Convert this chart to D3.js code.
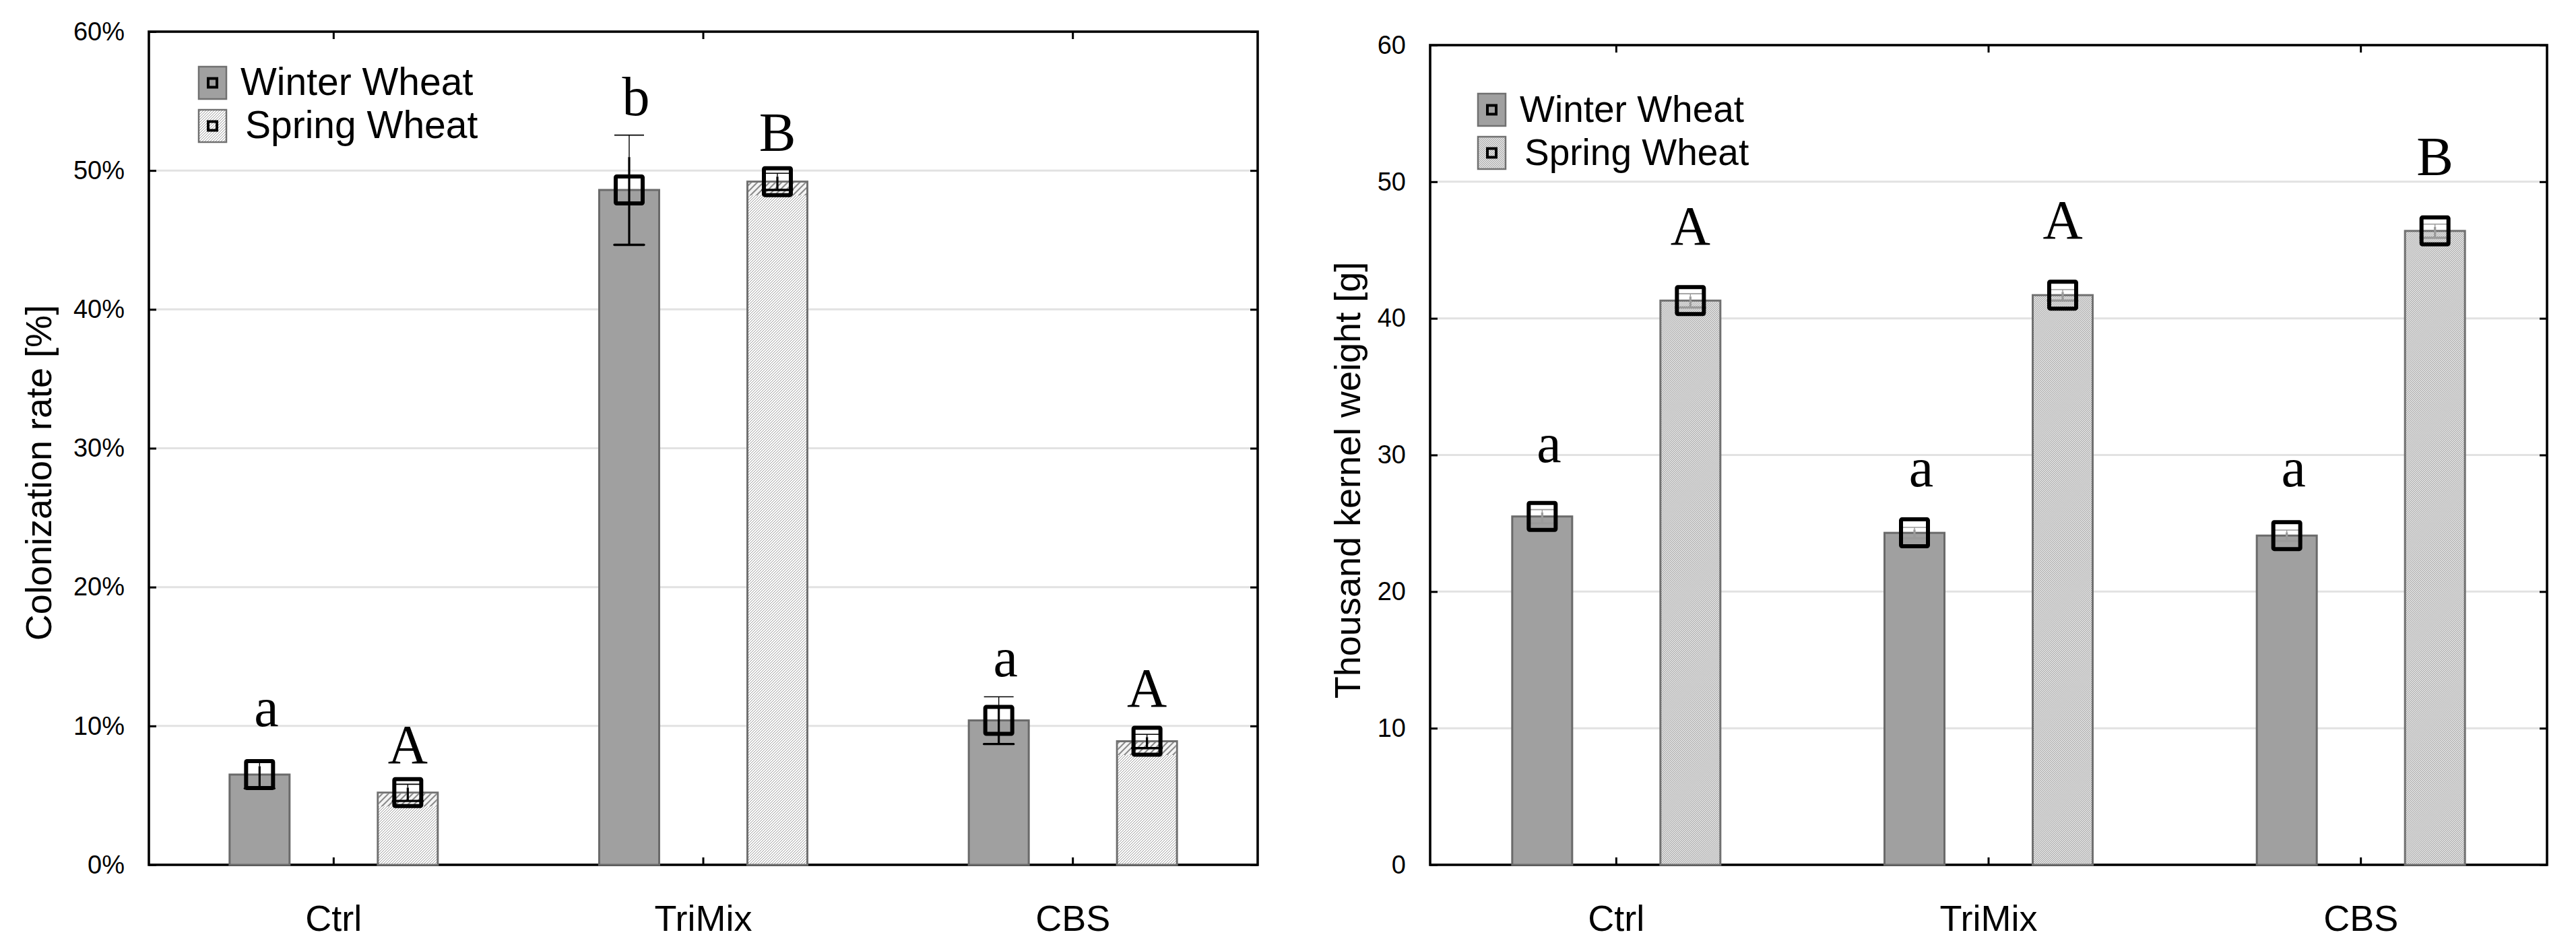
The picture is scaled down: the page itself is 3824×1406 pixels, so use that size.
<!DOCTYPE html>
<html>
<head>
<meta charset="utf-8">
<script src="https://cdnjs.cloudflare.com/ajax/libs/d3/7.8.5/d3.min.js"></script>
<style>
  body { margin: 0; background: #fff; }
  svg { display: block; }
</style>
</head>
<body>
<script>
// categories and series
var categories = ["Ctrl", "TriMix", "CBS"];
var seriesNames = ["Winter Wheat", "Spring Wheat"];

// colonization rate [%]
var colonWinter = [6.5, 48.6, 10.4];
var colonSpring = [5.2, 49.2, 8.9];
var colonWinterErr = [1.0, 3.95, 1.7];
var colonSpringErr = [0.6, 0.6, 0.5];
var colonWinterLetters = ["a", "b", "a"];
var colonSpringLetters = ["A", "B", "A"];
var colonWinterLetterAt = [10.0, 54.0, 13.6];
var colonSpringLetterAt = [7.3, 51.4, 11.4];
var colonTicks = [0, 10, 20, 30, 40, 50, 60];

// thousand kernel weight [g]
var tkwWinter = [25.5, 24.3, 24.1];
var tkwSpring = [41.3, 41.7, 46.4];
var tkwWinterErr = [0.5, 0.4, 0.4];
var tkwSpringErr = [0.5, 0.4, 0.5];
var tkwWinterLetters = ["a", "a", "a"];
var tkwSpringLetters = ["A", "A", "B"];
var tkwWinterLetterAt = [29.5, 27.7, 27.7];
var tkwSpringLetterAt = [45.4, 45.85, 50.5];
var tkwTicks = [0, 10, 20, 30, 40, 50, 60];

var W = 3824, H = 1406;
var svg = d3.select("body").append("svg").attr("width", W).attr("height", H);

// fill patterns
var defs = svg.append("defs");
function hatch(id, size, color, width, bg){
  var p = defs.append("pattern").attr("id", id)
    .attr("patternUnits", "userSpaceOnUse")
    .attr("width", size).attr("height", size);
  p.append("rect").attr("width", size).attr("height", size).attr("fill", bg);
  p.append("path")
    .attr("d", "M0," + size + " L" + size + ",0 M-1,1 L1,-1 M" + (size-1) + "," + (size+1) + " L" + (size+1) + "," + (size-1))
    .attr("stroke", color).attr("stroke-width", width);
}
hatch("lightHatch", 4, "#9a9a9a", 1, "#ffffff");
hatch("coarseHatch", 9, "#8a8a8a", 2, "#f4f4f4");
hatch("darkHatch", 3, "#9c9c9c", 1, "#e4e4e4");

function drawChart(cfg){
  var g = svg.append("g");
  var x = d3.scaleBand().domain(categories).range([cfg.x0, cfg.x1]);
  var sub = d3.scalePoint().domain(seriesNames).range([-110, 110]);
  var y = d3.scaleLinear().domain([0, 60]).range([cfg.y1, cfg.y0]);
  var barW = 89;

  // gridlines
  g.selectAll(".grid").data(cfg.ticks.filter(function(t){ return t > 0 && t < 60; }))
    .enter().append("line")
    .attr("x1", cfg.x0).attr("x2", cfg.x1)
    .attr("y1", function(d){ return y(d); }).attr("y2", function(d){ return y(d); })
    .attr("stroke", "#e2e2e2").attr("stroke-width", 3);

  // left axis with labels
  var yAxis = d3.axisLeft(y).tickValues(cfg.ticks).tickSize(-11).tickPadding(36)
    .tickFormat(cfg.fmt);
  var ya = g.append("g").attr("transform", "translate(" + cfg.x0 + ",0)").call(yAxis);
  ya.select(".domain").remove();
  ya.selectAll("line").attr("stroke", "#000").attr("stroke-width", 3);
  ya.selectAll("text").attr("font-family", "Liberation Sans, Arial, sans-serif")
    .attr("font-size", 38).attr("fill", "#000");

  // right axis ticks
  var ra = g.append("g").attr("transform", "translate(" + cfg.x1 + ",0)")
    .call(d3.axisRight(y).tickValues(cfg.ticks).tickSize(-11).tickFormat(""));
  ra.select(".domain").remove();
  ra.selectAll("line").attr("stroke", "#000").attr("stroke-width", 3);

  // bottom axis
  var xa = g.append("g").attr("transform", "translate(0," + cfg.y1 + ")")
    .call(d3.axisBottom(x).tickSize(-11).tickPadding(60));
  xa.select(".domain").remove();
  xa.selectAll("line").attr("stroke", "#000").attr("stroke-width", 3);
  xa.selectAll("text").attr("font-family", "Liberation Sans, Arial, sans-serif")
    .attr("font-size", 54).attr("fill", "#000");

  // top axis ticks
  var ta = g.append("g").attr("transform", "translate(0," + cfg.y0 + ")")
    .call(d3.axisTop(x).tickSize(-11).tickFormat(""));
  ta.select(".domain").remove();
  ta.selectAll("line").attr("stroke", "#000").attr("stroke-width", 3);

  // frame
  g.append("rect").attr("x", cfg.x0).attr("y", cfg.y0)
    .attr("width", cfg.x1 - cfg.x0).attr("height", cfg.y1 - cfg.y0)
    .attr("fill", "none").attr("stroke", "#000").attr("stroke-width", 3.6);

  // y title
  g.append("text")
    .attr("transform", "translate(" + cfg.titleX + "," + cfg.titleY + ") rotate(-90)")
    .attr("text-anchor", "middle").attr("dominant-baseline", "central")
    .attr("font-family", "Liberation Sans, Arial, sans-serif").attr("font-size", 54)
    .text(cfg.title);

  var series = [
    { name: seriesNames[0], vals: cfg.winter, err: cfg.winterErr, letters: cfg.winterLetters, at: cfg.winterLetterAt, fill: "#a0a0a0", stroke: "#6a6a6a", dx: 10 },
    { name: seriesNames[1], vals: cfg.spring, err: cfg.springErr, letters: cfg.springLetters, at: cfg.springLetterAt, fill: cfg.springFill, stroke: "#707070", dx: 0 }
  ];

  series.forEach(function(s, si){
    var rows = categories.map(function(c, i){
      return { cat: c, v: s.vals[i], e: s.err[i], l: s.letters[i], at: s.at[i] };
    });
    var cx = function(d){ return x(d.cat) + x.bandwidth() / 2 + sub(s.name); };

    g.selectAll(".bar" + si).data(rows).enter().append("rect")
      .attr("x", function(d){ return cx(d) - barW / 2; })
      .attr("y", function(d){ return y(d.v); })
      .attr("width", barW)
      .attr("height", function(d){ return y(0) - y(d.v); })
      .attr("fill", s.fill).attr("stroke", s.stroke).attr("stroke-width", 3);

    if (si === 1 && cfg.topStrip) {
      g.selectAll(".strip" + si).data(rows).enter().append("rect")
        .attr("x", function(d){ return cx(d) - barW / 2 + 1.5; })
        .attr("y", function(d){ return y(d.v) + 1.5; })
        .attr("width", barW - 3).attr("height", 19)
        .attr("fill", "url(#coarseHatch)");
    }

    // error bars
    var errColor = cfg.errColor;
    g.selectAll(".elo" + si).data(rows).enter().append("line")
      .attr("x1", cx).attr("x2", cx)
      .attr("y1", function(d){ return y(d.v - d.e); })
      .attr("y2", function(d){ return y(d.v + d.e * 0.6); })
      .attr("stroke", errColor).attr("stroke-width", 3.2);
    g.selectAll(".ehi" + si).data(rows).enter().append("line")
      .attr("x1", cx).attr("x2", cx)
      .attr("y1", function(d){ return y(d.v + d.e * 0.6); })
      .attr("y2", function(d){ return y(d.v + d.e); })
      .attr("stroke", errColor).attr("stroke-width", 1.4);
    g.selectAll(".ecapLo" + si).data(rows).enter().append("line")
      .attr("x1", function(d){ return cx(d) - 22; }).attr("x2", function(d){ return cx(d) + 22; })
      .attr("y1", function(d){ return y(d.v - d.e); }).attr("y2", function(d){ return y(d.v - d.e); })
      .attr("stroke", errColor).attr("stroke-width", 3.4).attr("stroke-linecap", "round");
    g.selectAll(".ecapHi" + si).data(rows).enter().append("line")
      .attr("x1", function(d){ return cx(d) - 22; }).attr("x2", function(d){ return cx(d) + 22; })
      .attr("y1", function(d){ return y(d.v + d.e); }).attr("y2", function(d){ return y(d.v + d.e); })
      .attr("stroke", errColor).attr("stroke-width", 1.6);

    // mean markers
    g.selectAll(".mk" + si).data(rows).enter().append("rect")
      .attr("x", function(d){ return cx(d) - 20; })
      .attr("y", function(d){ return y(d.v) - 20; })
      .attr("width", 40).attr("height", 40)
      .attr("fill", "none").attr("stroke", "#000").attr("stroke-width", 6)
      .attr("rx", 1.5);

    // significance letters
    g.selectAll(".lt" + si).data(rows).enter().append("text")
      .attr("x", function(d){ return cx(d) + s.dx; })
      .attr("y", function(d){ return y(d.at); })
      .attr("text-anchor", "middle")
      .attr("font-family", "Liberation Serif, Times New Roman, serif")
      .attr("font-size", 82).attr("fill", "#000")
      .text(function(d){ return d.l; });
  });

  // legend
  var lg = g.append("g").attr("transform", "translate(" + cfg.legX + "," + cfg.legY + ")");
  var legFills = ["#a0a0a0", cfg.springFill];
  seriesNames.forEach(function(n, i){
    var row = lg.append("g").attr("transform", "translate(0," + (i * 64) + ")");
    row.append("rect").attr("x", 0).attr("y", 0).attr("width", 41).attr("height", 48)
      .attr("fill", legFills[i]).attr("stroke", "#707070").attr("stroke-width", 2.5);
    row.append("rect").attr("x", 14).attr("y", 17.5).attr("width", 13).attr("height", 13)
      .attr("fill", "none").attr("stroke", "#000").attr("stroke-width", 4);
    row.append("text").attr("x", 62 + i * 7).attr("y", 42)
      .attr("font-family", "Liberation Sans, Arial, sans-serif").attr("font-size", cfg.legFont)
      .text(n);
  });
}

drawChart({
  x0: 221, x1: 1867, y0: 47, y1: 1284,
  ticks: colonTicks, fmt: function(d){ return d + "%"; },
  title: "Colonization rate [%]", titleX: 57, titleY: 702,
  winter: colonWinter, spring: colonSpring,
  winterErr: colonWinterErr, springErr: colonSpringErr,
  winterLetters: colonWinterLetters, springLetters: colonSpringLetters,
  winterLetterAt: colonWinterLetterAt, springLetterAt: colonSpringLetterAt,
  springFill: "url(#lightHatch)", topStrip: true, errColor: "#000",
  legX: 295, legY: 99, legFont: 57
});

drawChart({
  x0: 2123, x1: 3781, y0: 67, y1: 1284,
  ticks: tkwTicks, fmt: function(d){ return d; },
  title: "Thousand kernel weight [g]", titleX: 2000, titleY: 713,
  winter: tkwWinter, spring: tkwSpring,
  winterErr: tkwWinterErr, springErr: tkwSpringErr,
  winterLetters: tkwWinterLetters, springLetters: tkwSpringLetters,
  winterLetterAt: tkwWinterLetterAt, springLetterAt: tkwSpringLetterAt,
  springFill: "url(#darkHatch)", topStrip: false, errColor: "#9a9a9a",
  legX: 2194, legY: 139, legFont: 55
});
</script>
</body>
</html>
